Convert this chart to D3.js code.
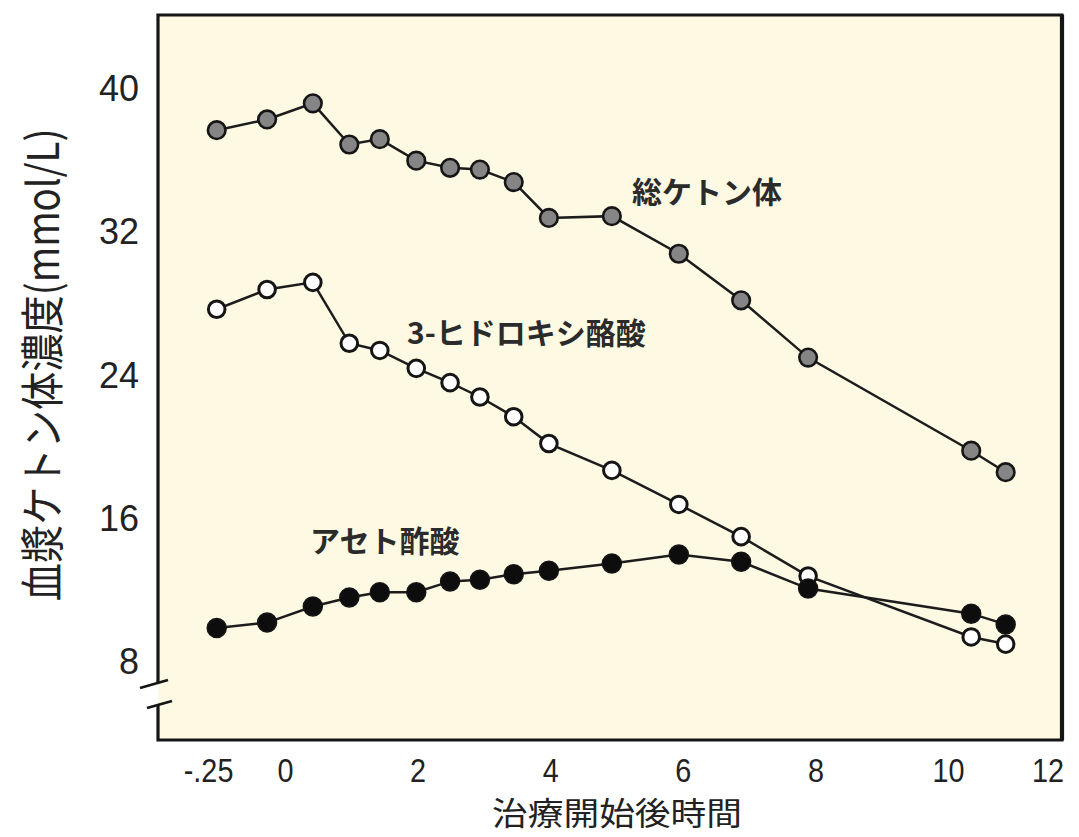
<!DOCTYPE html>
<html><head><meta charset="utf-8">
<script src="https://cdn.jsdelivr.net/npm/d3@7"></script>
<style>body{margin:0;background:#fff}</style>
</head><body><svg id="c" width="1079" height="837"></svg>
<script>
// Time points (plotted hour positions) shared by all series
const times = [-1.03, -0.27, 0.42, 0.97, 1.43, 1.98, 2.49, 2.94, 3.45, 3.98, 4.93, 5.94, 6.88, 7.89, 10.35, 10.87];
// 総ケトン体 (total ketone bodies)
const totalKetone = [37.7, 38.3, 39.2, 36.9, 37.2, 36.0, 35.6, 35.5, 34.8, 32.8, 32.9, 30.8, 28.2, 25.0, 19.8, 18.6];
// 3-ヒドロキシ酪酸
const hydroxybutyrate = [27.7, 28.8, 29.2, 25.8, 25.4, 24.4, 23.6, 22.8, 21.7, 20.2, 18.7, 16.8, 15.0, 12.8, 9.4, 9.0];
// アセト酢酸
const acetoacetate = [9.9, 10.2, 11.1, 11.6, 11.9, 11.9, 12.5, 12.6, 12.9, 13.1, 13.5, 14.0, 13.6, 12.1, 10.7, 10.1];

const xTickValues = [-1.16, 0, 2, 4, 6, 8, 10, 11.5];
const xTickLabels = ["-.25", "0", "2", "4", "6", "8", "10", "12"];
const yTickValues = [8, 16, 24, 32, 40];
const seriesNames = ["総ケトン体", "3-ヒドロキシ酪酸", "アセト酢酸"];
const xTitle = "治療開始後時間";
const yTitle = "血漿ケトン体濃度(mmol/L)";

const plot = {left: 158, right: 1062, top: 15, bottom: 740};
const x = d3.scaleLinear().domain([0, 10]).range([285, 948]);
const y = d3.scaleLinear().domain([8, 40]).range([662, 89]);

const svg = d3.select("#c");
svg.append("rect").attr("width", 1079).attr("height", 837).attr("fill", "#fff");
svg.append("rect").attr("x", plot.left).attr("y", plot.top)
  .attr("width", plot.right - plot.left).attr("height", plot.bottom - plot.top)
  .attr("fill", "#fdf9e2");

// Frame with axis break on the left side
const frame = svg.append("g").attr("stroke", "#151515").attr("stroke-width", 3.2).attr("fill", "none");
frame.append("path").attr("d", `M${plot.left},682 L${plot.left},${plot.top} L${plot.right},${plot.top} L${plot.right},${plot.bottom} L${plot.left},${plot.bottom} L${plot.left},704`);
frame.append("line").attr("x1", plot.right).attr("x2", plot.right).attr("y1", plot.top).attr("y2", plot.bottom).attr("stroke-width", 4.2);
frame.append("line").attr("x1", 140).attr("y1", 688).attr("x2", 168).attr("y2", 680).attr("stroke-width", 2.8);
frame.append("line").attr("x1", 147).attr("y1", 708).attr("x2", 172).attr("y2", 701).attr("stroke-width", 2.8);

// Axes
const yAxis = d3.axisLeft(y).tickValues(yTickValues).tickSize(0).tickPadding(19).tickFormat(d3.format("d"));
const gy = svg.append("g").attr("transform", `translate(${plot.left},0)`).call(yAxis);
gy.select(".domain").remove();
gy.selectAll("text").attr("font-family", "Liberation Sans, Arial, sans-serif").attr("font-size", 36).attr("fill", "#222");

const xAxis = d3.axisBottom(x).tickValues(xTickValues).tickSize(0).tickPadding(17).tickFormat((d, i) => xTickLabels[i]);
const gx = svg.append("g").attr("transform", `translate(0,${plot.bottom})`).call(xAxis);
gx.select(".domain").remove();
gx.selectAll("text").attr("font-family", "Liberation Sans, Arial, sans-serif").attr("font-size", 32).attr("fill", "#222")
  .attr("transform", "scale(0.9,1.05)");

// Axis titles
svg.append("text").attr("text-anchor", "middle").attr("dominant-baseline", "central")
  .attr("font-family", "Noto Sans CJK JP").attr("font-size", 35).attr("fill", "#222")
  .attr("transform", "translate(617,811) scale(1.02,0.9)").text(xTitle);
svg.append("text").attr("text-anchor", "middle").attr("dominant-baseline", "central")
  .attr("font-family", "Noto Sans CJK JP").attr("font-size", 44).attr("fill", "#222")
  .attr("transform", "translate(40,365) rotate(-90) scale(0.87,1)").text(yTitle);

// Series
const line = d3.line().x((d, i) => x(times[i])).y(d => y(d));
const series = [
  {name: seriesNames[2], values: acetoacetate, fill: "#0d0d0d", r: 9.5, sw: 1.5},
  {name: seriesNames[1], values: hydroxybutyrate, fill: "#ffffff", r: 8.3, sw: 3},
  {name: seriesNames[0], values: totalKetone, fill: "#858585", r: 8.8, sw: 2.6}
];
series.forEach(s => {
  svg.append("path").datum(s.values).attr("d", line).attr("fill", "none")
    .attr("stroke", "#1c1c1c").attr("stroke-width", 2.5);
});
[series[1], series[0], series[2]].forEach(s => {
  svg.append("g").selectAll("circle").data(s.values).join("circle")
    .attr("cx", (d, i) => x(times[i])).attr("cy", d => y(d)).attr("r", s.r)
    .attr("fill", s.fill).attr("stroke", "#151515").attr("stroke-width", s.sw);
});

// Series labels
const lab = (t, lx, ly) => svg.append("text").attr("x", lx).attr("y", ly).attr("dominant-baseline", "central")
  .attr("font-family", "Noto Sans CJK JP").attr("font-weight", "bold").attr("font-size", 30).attr("fill", "#2b2b2b").text(t);
lab(seriesNames[0], 632, 190);
lab(seriesNames[1], 407, 331);
lab(seriesNames[2], 310, 539);
</script></body></html>
